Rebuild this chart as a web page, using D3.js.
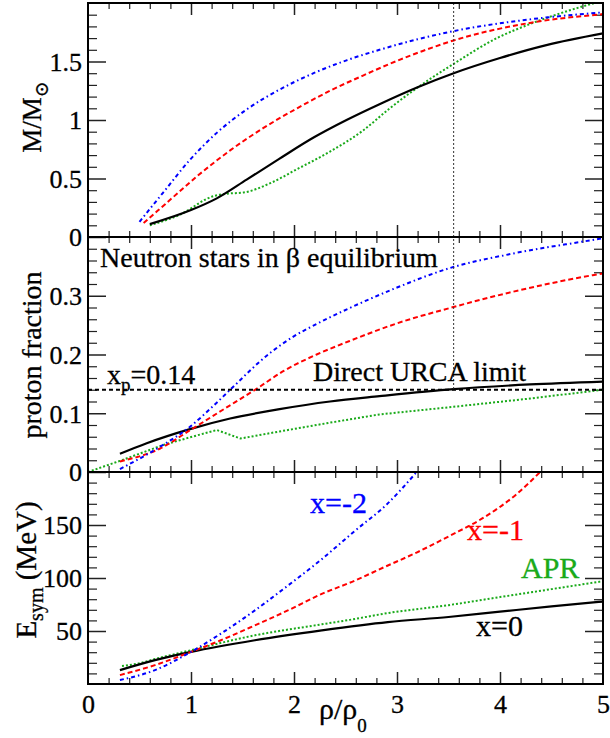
<!DOCTYPE html>
<html><head><meta charset="utf-8">
<script src="https://cdn.jsdelivr.net/npm/d3@7"></script>
<style>
body{margin:0;background:#fff}
svg{display:block}
</style>
</head><body>
<svg id="c" width="610" height="738"></svg>
<script>
// ---------- DATA ----------
// x axis
const xTicks = [0, 1, 2, 3, 4, 5];
// Panel 1: M/Msun vs rho/rho0
const mTicks = [0, 0.5, 1, 1.5];
const mRhoX0  = [0.6, 1.0, 1.25, 1.54, 1.86, 2.19, 2.51, 2.83, 3.2, 3.55, 4.0, 4.45, 5.0];
const mValX0  = [0.11, 0.23, 0.33, 0.49, 0.67, 0.85, 1.00, 1.135, 1.28, 1.40, 1.53, 1.64, 1.74];
const mRhoXm1 = [0.54, 0.80, 1.06, 1.38, 1.70, 2.03, 2.35, 2.67, 2.93, 3.25, 3.55, 4.29, 5.0];
const mValXm1 = [0.12, 0.32, 0.52, 0.74, 0.93, 1.10, 1.25, 1.38, 1.48, 1.59, 1.68, 1.83, 1.905];
const mRhoXm2 = [0.5, 0.73, 0.99, 1.25, 1.54, 1.86, 2.19, 2.51, 2.83, 3.2, 3.55, 4.29, 5.0];
const mValXm2 = [0.13, 0.38, 0.66, 0.89, 1.09, 1.26, 1.40, 1.51, 1.60, 1.69, 1.76, 1.86, 1.92];
const mRhoAPR = [0.6, 0.89, 1.22, 1.35, 1.51, 1.77, 2.03, 2.35, 2.67, 2.93, 3.22, 3.55, 3.97, 4.29, 4.65, 5.0];
const mValAPR = [0.10, 0.19, 0.35, 0.37, 0.38, 0.46, 0.58, 0.73, 0.91, 1.10, 1.29, 1.48, 1.70, 1.82, 1.93, 2.02];
// Panel 2: proton fraction
const pTicks = [0, 0.1, 0.2, 0.3];
const pRhoX0  = [0.31, 0.57, 0.99, 1.38, 1.86, 2.35, 2.83, 3.55, 4.29, 5.0];
const pValX0  = [0.031, 0.049, 0.073, 0.091, 0.107, 0.120, 0.129, 0.141, 0.149, 0.154];
const pRhoXm1 = [0.31, 0.70, 0.99, 1.31, 1.64, 1.90, 2.22, 2.54, 3.0, 3.51, 4.13, 4.9, 5.0];
const pValXm1 = [0.018, 0.040, 0.071, 0.106, 0.142, 0.172, 0.200, 0.223, 0.253, 0.279, 0.307, 0.335, 0.338];
const pRhoXm2 = [0.31, 0.70, 0.99, 1.22, 1.38, 1.77, 1.99, 2.22, 2.54, 3.0, 3.51, 4.13, 4.9, 5.0];
const pValXm2 = [0.005, 0.043, 0.077, 0.113, 0.140, 0.203, 0.230, 0.252, 0.279, 0.314, 0.347, 0.372, 0.395, 0.398];
const pRhoAPR = [0, 0.31, 0.73, 0.99, 1.25, 1.48, 1.86, 2.35, 2.83, 3.55, 4.29, 5.0];
const pValAPR = [0.0, 0.019, 0.046, 0.059, 0.0715, 0.057, 0.069, 0.084, 0.098, 0.111, 0.125, 0.140];
const urcaLimit = 0.14;
const markerRho = 3.55;
// Panel 3: Esym (MeV)
const eTicks = [50, 100, 150];
const eRhoX0  = [0.31, 0.65, 1.0, 1.62, 2.27, 2.91, 3.5, 4.0, 4.5, 5.0];
const eValX0  = [13.1, 22.5, 30.3, 41.3, 50.6, 58.4, 63.2, 68.2, 73.2, 77.8];
const eRhoXm1 = [0.31, 0.65, 1.0, 1.29, 1.62, 1.94, 2.27, 2.59, 2.87, 3.19, 3.51, 3.84, 4.16, 4.4];
const eValXm1 = [8.4, 17.8, 30.3, 41.3, 55.3, 69.4, 85, 97.5, 110, 124, 139.7, 156.9, 179, 201];
const eRhoXm2 = [0.31, 0.65, 1.0, 1.29, 1.62, 1.94, 2.27, 2.59, 2.90, 3.2];
const eValXm2 = [3.75, 13.1, 30.3, 47.5, 69.4, 92.8, 117.8, 144.4, 169.4, 201];
const eRhoAPR = [0.33, 0.49, 0.65, 1.0, 1.62, 2.27, 2.54, 2.91, 3.5, 4.0, 4.5, 5.0];
const eValAPR = [16.9, 19.4, 23.5, 31.9, 45.9, 56.3, 60.5, 66.9, 74.4, 82, 89.5, 97];

// ---------- LAYOUT ----------
const svg = d3.select("#c");
const L = 88, R = 603;
const x = d3.scaleLinear().domain([0, 5]).range([L, R]);
const FONT = '"Liberation Serif","Times New Roman",serif';
const styles = {
  x0:  {color: "#000000", dash: null, width: 2.2},
  xm1: {color: "#ff0000", dash: "5,3", width: 2},
  xm2: {color: "#0000ff", dash: "4,3,1.5,3", width: 2},
  apr: {color: "#1aaa1a", dash: "2,2", width: 2}
};
const panels = [
  {top: 3, bottom: 237, domain: [0, 2], ticks: mTicks, minor: 0.1,
   series: [["apr", mRhoAPR, mValAPR], ["x0", mRhoX0, mValX0], ["xm1", mRhoXm1, mValXm1], ["xm2", mRhoXm2, mValXm2]]},
  {top: 237, bottom: 472, domain: [0, 0.4], ticks: pTicks, minor: 0.02,
   series: [["apr", pRhoAPR, pValAPR], ["x0", pRhoX0, pValX0], ["xm1", pRhoXm1, pValXm1], ["xm2", pRhoXm2, pValXm2]]},
  {top: 472, bottom: 684, domain: [0, 200], ticks: eTicks, minor: 10,
   series: [["apr", eRhoAPR, eValAPR], ["x0", eRhoX0, eValX0], ["xm1", eRhoXm1, eValXm1], ["xm2", eRhoXm2, eValXm2]]}
];
const xMinor = d3.range(0, 5.0001, 0.2).filter(v => Math.abs(v - Math.round(v)) > 1e-6);

panels.forEach((p, i) => {
  p.y = d3.scaleLinear().domain(p.domain).range([p.bottom, p.top]);
  const clipId = "clip" + i;
  svg.append("clipPath").attr("id", clipId).append("rect")
    .attr("x", L).attr("y", p.top).attr("width", R - L).attr("height", p.bottom - p.top);
  const g = svg.append("g");
  const yMinor = d3.range(p.domain[0], p.domain[1] + 1e-9, p.minor)
    .filter(v => !p.ticks.some(t => Math.abs(t - v) < 1e-9) && v > p.domain[0] + 1e-9 && v < p.domain[1] - 1e-9);
  const yMajorAll = d3.range(p.domain[0], p.domain[1] + 1e-9, p.ticks[1] - p.ticks[0])
    .filter(v => v > p.domain[0] + 1e-9 && v < p.domain[1] - 1e-9);

  const la = g.append("g").attr("transform", `translate(${L},0)`)
    .call(d3.axisLeft(p.y).tickValues(p.ticks).tickSize(-18).tickPadding(6).tickFormat(d => String(d)));
  la.select(".domain").remove();
  la.selectAll("text").attr("font-size", 26).attr("font-family", FONT).attr("fill", "#000")
    .attr("stroke", "#000").attr("stroke-width", 0.3).attr("dy", "0.34em");
  la.selectAll("line").attr("stroke", "#222").attr("stroke-width", 1.5);
  const lm = g.append("g").attr("transform", `translate(${L},0)`)
    .call(d3.axisLeft(p.y).tickValues(yMinor).tickSize(-9).tickFormat(""));
  lm.select(".domain").remove();
  lm.selectAll("line").attr("stroke", "#222").attr("stroke-width", 1.2);
  const ra = g.append("g").attr("transform", `translate(${R},0)`)
    .call(d3.axisRight(p.y).tickValues(yMajorAll).tickSize(-18).tickFormat(""));
  ra.select(".domain").remove();
  ra.selectAll("line").attr("stroke", "#222").attr("stroke-width", 1.5);
  const rm = g.append("g").attr("transform", `translate(${R},0)`)
    .call(d3.axisRight(p.y).tickValues(yMinor).tickSize(-9).tickFormat(""));
  rm.select(".domain").remove();
  rm.selectAll("line").attr("stroke", "#222").attr("stroke-width", 1.2);
  [[p.bottom, d3.axisBottom], [p.top, d3.axisTop]].forEach(([yy, ax]) => {
    const a1 = g.append("g").attr("transform", `translate(0,${yy})`)
      .call(ax(x).tickValues(xTicks.filter(v => v > 0 && v < 5)).tickSize(-12).tickFormat(""));
    a1.select(".domain").remove();
    a1.selectAll("line").attr("stroke", "#222").attr("stroke-width", 1.5);
    const a2 = g.append("g").attr("transform", `translate(0,${yy})`)
      .call(ax(x).tickValues(xMinor).tickSize(-6).tickFormat(""));
    a2.select(".domain").remove();
    a2.selectAll("line").attr("stroke", "#222").attr("stroke-width", 1.2);
  });

  const cg = svg.append("g").attr("clip-path", `url(#${clipId})`);
  p.series.forEach(([key, xs, ys]) => {
    const st = styles[key];
    const pts = xs.map((v, k) => [v, ys[k]]);
    const curve = (key === "apr" && i === 1) ? d3.curveLinear : d3.curveMonotoneX;
    cg.append("path").datum(pts)
      .attr("d", d3.line().x(d => x(d[0])).y(d => p.y(d[1])).curve(curve))
      .attr("fill", "none").attr("stroke", st.color).attr("stroke-width", st.width)
      .attr("stroke-dasharray", st.dash);
  });
});

// reference lines
const yTop = panels[0].y, yMid = panels[1].y;
svg.append("line").attr("x1", x(markerRho)).attr("x2", x(markerRho))
  .attr("y1", yTop(2)).attr("y2", yMid(urcaLimit))
  .attr("stroke", "#333").attr("stroke-width", 1).attr("stroke-dasharray", "2,2");
svg.append("line").attr("x1", x(0)).attr("x2", x(5))
  .attr("y1", yMid(urcaLimit)).attr("y2", yMid(urcaLimit))
  .attr("stroke", "#000").attr("stroke-width", 2).attr("stroke-dasharray", "4,3");

// frames
panels.forEach(p => {
  svg.append("rect").attr("x", L).attr("y", p.top).attr("width", R - L).attr("height", p.bottom - p.top)
    .attr("fill", "none").attr("stroke", "#000").attr("stroke-width", 2);
});

// x tick labels
const xl = svg.append("g").attr("transform", `translate(0,${panels[2].bottom})`)
  .call(d3.axisBottom(x).tickValues(xTicks).tickSize(0).tickPadding(11).tickFormat(d => String(d)));
xl.select(".domain").remove();
xl.selectAll("text").attr("font-size", 26).attr("font-family", FONT).attr("fill", "#000")
  .attr("stroke", "#000").attr("stroke-width", 0.3).attr("dy", "0.71em");

// annotations
function txt(xp, yp, s, size, color) {
  const c = color || "#000";
  return svg.append("text").attr("x", xp).attr("y", yp).attr("font-size", size)
    .attr("font-family", FONT).attr("fill", c)
    .attr("stroke", c).attr("stroke-width", 0.3).text(s);
}
txt(100, 267, "Neutron stars in β equilibrium", 28);
const xp = txt(107, 384, "x", 28);
xp.append("tspan").attr("font-size", 19).attr("dy", 7).text("p");
xp.append("tspan").attr("dy", -7).text("=0.14");
txt(313, 381, "Direct URCA limit", 28);
txt(310, 513, "x=-2", 30, "#0000ff");
txt(467, 540, "x=-1", 30, "#ff0000");
txt(521, 578, "APR", 30, "#1aaa1a");
txt(476, 636, "x=0", 30, "#000000");

// axis titles
const t1 = svg.append("text").attr("transform", "translate(41,117) rotate(-90)")
  .attr("text-anchor", "middle").attr("font-size", 27).attr("font-family", FONT)
  .attr("fill", "#000").attr("stroke", "#000").attr("stroke-width", 0.3);
t1.append("tspan").text("M/M");
t1.append("tspan").attr("font-size", 19).attr("dy", 7).attr("font-family", "DejaVu Serif").text("\u2299");
svg.append("text").attr("transform", "translate(41,355) rotate(-90)")
  .attr("text-anchor", "middle").attr("font-size", 28).attr("font-family", FONT)
  .attr("fill", "#000").attr("stroke", "#000").attr("stroke-width", 0.3).text("proton fraction");
const t3 = svg.append("text").attr("transform", "translate(36,570) rotate(-90)")
  .attr("text-anchor", "middle").attr("font-size", 29).attr("font-family", FONT)
  .attr("fill", "#000").attr("stroke", "#000").attr("stroke-width", 0.3);
t3.append("tspan").text("E");
t3.append("tspan").attr("font-size", 20).attr("dy", 7).text("sym");
t3.append("tspan").attr("dy", -7).text(" (MeV)");
const tx = svg.append("text").attr("x", 319).attr("y", 719).attr("font-size", 30).attr("font-family", FONT)
  .attr("fill", "#000").attr("stroke", "#000").attr("stroke-width", 0.3);
tx.append("tspan").text("ρ/ρ");
tx.append("tspan").attr("font-size", 19).attr("dy", 13).text("0");
</script>
</body></html>
